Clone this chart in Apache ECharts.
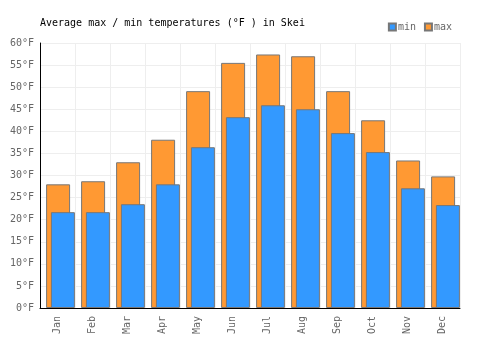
<!DOCTYPE html>
<html>
<head>
<meta charset="utf-8">
<script src="https://cdn.jsdelivr.net/npm/echarts@6/dist/echarts.min.js"></script>
<style>
  html, body { margin: 0; padding: 0; background: #fff; }
  #chart { width: 500px; height: 350px; }
</style>
</head>
<body>
<div id="chart"></div>
<script>
var months = ["Jan", "Feb", "Mar", "Apr", "May", "Jun", "Jul", "Aug", "Sep", "Oct", "Nov", "Dec"];
var minTemps = [21.7, 21.7, 23.5, 28.0, 36.4, 43.2, 45.9, 45.0, 39.6, 35.3, 27.1, 23.3];
var maxTemps = [28.0, 28.7, 33.0, 38.1, 49.1, 55.5, 57.4, 57.0, 49.1, 42.5, 33.4, 29.8];

var font = "DejaVu Sans Mono";
var myChart = echarts.init(document.getElementById("chart"));
var option = {
  animation: false,
  textStyle: { fontFamily: font },
  title: {
    text: "Average max / min temperatures (°F ) in Skei",
    left: 35,
    top: 13,
    textStyle: { fontFamily: font, fontSize: 10, fontWeight: "normal", color: "#000" }
  },
  legend: {
    data: ["min", "max"],
    right: 43,
    top: 17,
    itemWidth: 7,
    itemHeight: 7,
    itemGap: 8,
    icon: "rect",
    textStyle: { fontFamily: font, fontSize: 10, color: "#666", padding: [0, 0, 0, -3] }
  },
  // grid 0 draws axes and split lines, grid 1 holds the bars (shifted a little right)
  grid: [
    { left: 40, right: 40, top: 43, bottom: 42 },
    { left: 43, right: 37, top: 43, bottom: 42 }
  ],
  xAxis: [
    {
      type: "category",
      gridIndex: 0,
      data: months,
      axisLine: { lineStyle: { color: "#000" } },
      axisTick: { show: false },
      splitLine: { show: true, lineStyle: { color: "#eee" } },
      axisLabel: { rotate: 90, color: "#666", fontFamily: font, fontSize: 10, margin: 8 }
    },
    {
      type: "category",
      gridIndex: 1,
      data: months,
      show: false
    }
  ],
  yAxis: [
    {
      type: "value",
      gridIndex: 0,
      min: 0,
      max: 60,
      interval: 5,
      axisLine: { show: true, lineStyle: { color: "#000" } },
      axisTick: { show: false },
      splitLine: { lineStyle: { color: "#eee" } },
      axisLabel: { formatter: "{value}°F", color: "#666", fontFamily: font, fontSize: 10, margin: 6 }
    },
    {
      type: "value",
      gridIndex: 1,
      min: 0,
      max: 60,
      show: false
    }
  ],
  series: [
    {
      name: "max",
      type: "bar",
      xAxisIndex: 1,
      yAxisIndex: 1,
      data: maxTemps,
      barWidth: 24,
      barGap: "-80%",
      z: 1,
      itemStyle: { color: "#ff9933", borderColor: "#777", borderWidth: 1 }
    },
    {
      name: "min",
      type: "bar",
      xAxisIndex: 1,
      yAxisIndex: 1,
      data: minTemps,
      barWidth: 24,
      z: 2,
      itemStyle: { color: "#3399ff", borderColor: "#777", borderWidth: 1 }
    }
  ]
};
myChart.setOption(option);
</script>
</body>
</html>
